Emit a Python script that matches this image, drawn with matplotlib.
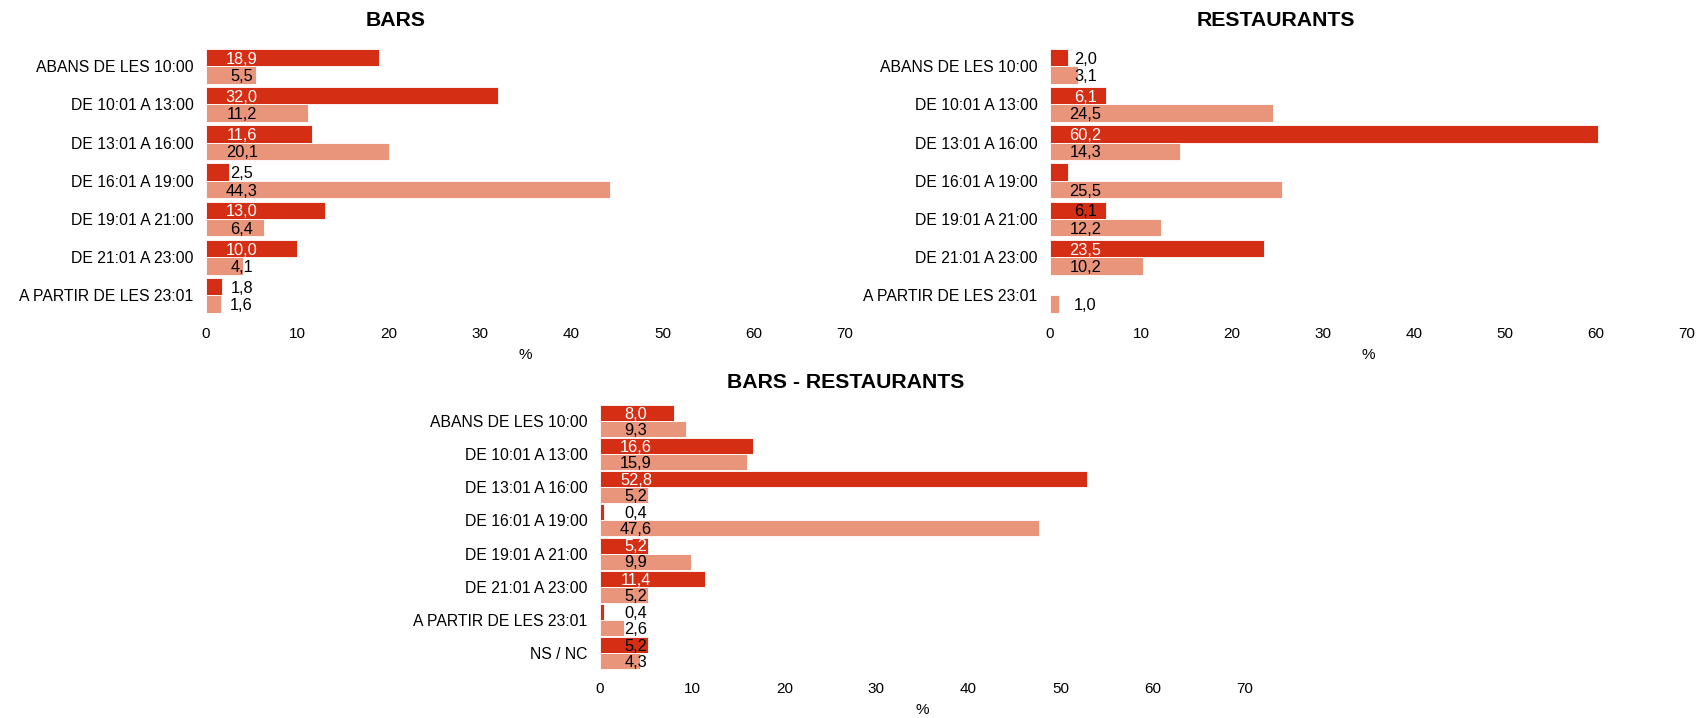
import matplotlib.pyplot as plt
import numpy as np

plt.rcParams['font.family'] = ['Liberation Sans', 'DejaVu Sans']

# categories
cats_top = ["ABANS DE LES 10:00", "DE 10:01 A 13:00", "DE 13:01 A 16:00",
            "DE 16:01 A 19:00", "DE 19:01 A 21:00", "DE 21:01 A 23:00",
            "A PARTIR DE LES 23:01"]
cats_bottom = cats_top + ["NS / NC"]

# BARS
bars_dark = [18.9, 32.0, 11.6, 2.5, 13.0, 10.0, 1.8]
bars_light = [5.5, 11.2, 20.1, 44.3, 6.4, 4.1, 1.6]
bars_dark_lbl = ["18,9", "32,0", "11,6", "2,5", "13,0", "10,0", "1,8"]
bars_light_lbl = ["5,5", "11,2", "20,1", "44,3", "6,4", "4,1", "1,6"]
bars_dark_txt = ["white", "white", "white", "black", "white", "white", "black"]

# RESTAURANTS
rest_dark = [2.0, 6.1, 60.2, 2.0, 6.1, 23.5, 0.0]
rest_light = [3.1, 24.5, 14.3, 25.5, 12.2, 10.2, 1.0]
rest_dark_lbl = ["2,0", "6,1", "60,2", None, "6,1", "23,5", None]
rest_light_lbl = ["3,1", "24,5", "14,3", "25,5", "12,2", "10,2", "1,0"]
rest_dark_txt = ["black", "white", "white", "black", "black", "white", "black"]

# BARS - RESTAURANTS
both_dark = [8.0, 16.6, 52.8, 0.4, 5.2, 11.4, 0.4, 5.2]
both_light = [9.3, 15.9, 5.2, 47.6, 9.9, 5.2, 2.6, 4.3]
both_dark_lbl = ["8,0", "16,6", "52,8", "0,4", "5,2", "11,4", "0,4", "5,2"]
both_light_lbl = ["9,3", "15,9", "5,2", "47,6", "9,9", "5,2", "2,6", "4,3"]
both_dark_txt = ["white", "white", "white", "black", "white", "white", "black", "black"]

DARK = "#D42F14"
LIGHT = "#E8957C"
FS_Y = 11.3
FS_X = 11
FS_VAL = 11.8
W = 1702.0
H = 718.0

fig = plt.figure(figsize=(17.02, 7.18), dpi=100)


def panel(rect, cats, dark, light, dark_lbl, light_lbl, dark_txt, h):
  ax = fig.add_axes(rect)
  y = np.arange(len(cats))
  ax.barh(y - h / 2, dark, height=h, color=DARK, edgecolor="white", linewidth=0.6)
  ax.barh(y + h / 2, light, height=h, color=LIGHT, edgecolor="white", linewidth=0.6)
  for i in range(len(cats)):
    if dark_lbl[i] is not None:
      ax.text(3.9, y[i] - h / 2 + 0.04, dark_lbl[i], ha="center", va="center",
              fontsize=FS_VAL, color=dark_txt[i])
    if light_lbl[i] is not None:
      ax.text(3.9, y[i] + h / 2 + 0.04, light_lbl[i], ha="center", va="center",
              fontsize=FS_VAL, color="black")
  ax.set_xlim(0, 70)
  ax.set_ylim(len(cats) - 0.5, -0.5)
  ax.set_yticks(y)
  ax.set_yticklabels(cats, fontsize=FS_Y)
  ax.set_xticks(np.arange(0, 71, 10))
  ax.tick_params(axis="both", length=0)
  ax.tick_params(axis="y", pad=9, labelsize=FS_Y)
  ax.tick_params(axis="x", pad=9, labelsize=FS_X)
  ax.set_xlabel("%", fontsize=FS_X, labelpad=5)
  for s in ax.spines.values():
    s.set_visible(False)
  return ax


top_b = 1 - 314.6 / H
top_h = 267.5 / H
panel([206 / W, top_b, 639 / W, top_h], cats_top, bars_dark, bars_light,
      bars_dark_lbl, bars_light_lbl, bars_dark_txt, 0.455)
panel([1050 / W, top_b, 637 / W, top_h], cats_top, rest_dark, rest_light,
      rest_dark_lbl, rest_light_lbl, rest_dark_txt, 0.455)
panel([600 / W, 1 - 669.8 / H, 645 / W, 265.6 / H], cats_bottom, both_dark, both_light,
      both_dark_lbl, both_light_lbl, both_dark_txt, 0.48)

fig.text(396 / W, 1 - 20 / H, "BARS", ha="center", va="center",
         fontsize=15.3, fontweight="bold")
fig.text(1276 / W, 1 - 20 / H, "RESTAURANTS", ha="center", va="center",
         fontsize=15.3, fontweight="bold")
fig.text(846 / W, 1 - 382 / H, "BARS - RESTAURANTS", ha="center", va="center",
         fontsize=15.3, fontweight="bold")

fig.savefig("out.png", dpi=100)
